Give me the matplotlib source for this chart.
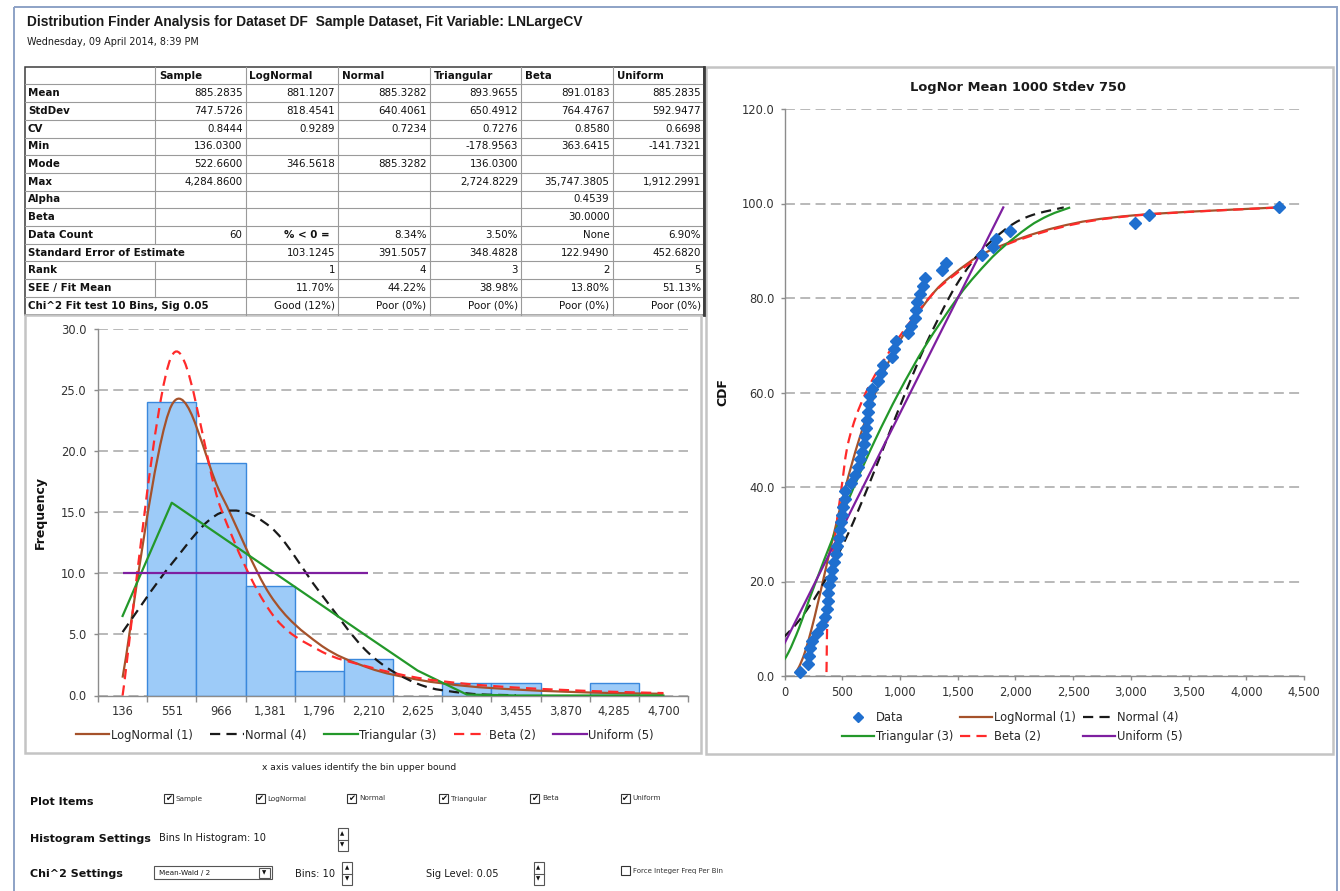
import matplotlib
matplotlib.use("Agg")
import matplotlib.pyplot as plt
from matplotlib import font_manager
from matplotlib.lines import Line2D
from matplotlib.path import Path
from matplotlib.patches import PathPatch, Rectangle
from matplotlib.ticker import FixedLocator, FuncFormatter, MultipleLocator

W, H = 1340, 891

# ---------------- values ----------------
title = "Distribution Finder Analysis for Dataset DF  Sample Dataset, Fit Variable: LNLargeCV"
stamp = "Wednesday, 09 April 2014, 8:39 PM"

table_cols = ["", "Sample", "LogNormal", "Normal", "Triangular", "Beta", "Uniform"]
row_labels = ["Mean", "StdDev", "CV", "Min", "Mode", "Max", "Alpha", "Beta",
              "Data Count", "Standard Error of Estimate", "Rank", "SEE / Fit Mean",
              "Chi^2 Fit test 10 Bins, Sig 0.05"]
row_values = [
    ["885.2835", "881.1207", "885.3282", "893.9655", "891.0183", "885.2835"],
    ["747.5726", "818.4541", "640.4061", "650.4912", "764.4767", "592.9477"],
    ["0.8444", "0.9289", "0.7234", "0.7276", "0.8580", "0.6698"],
    ["136.0300", "", "", "-178.9563", "363.6415", "-141.7321"],
    ["522.6600", "346.5618", "885.3282", "136.0300", "", ""],
    ["4,284.8600", "", "", "2,724.8229", "35,747.3805", "1,912.2991"],
    ["", "", "", "", "0.4539", ""],
    ["", "", "", "", "30.0000", ""],
    ["60", "% < 0 =", "8.34%", "3.50%", "None", "6.90%"],
    ["", "103.1245", "391.5057", "348.4828", "122.9490", "452.6820"],
    ["", "1", "4", "3", "2", "5"],
    ["", "11.70%", "44.22%", "38.98%", "13.80%", "51.13%"],
    ["", "Good (12%)", "Poor (0%)", "Poor (0%)", "Poor (0%)", "Poor (0%)"],
]
merged_rows = [9, 12]

# histogram: bin upper bounds and counts, fitted expected counts
bin_labels = ["136", "551", "966", "1,381", "1,796", "2,210", "2,625",
              "3,040", "3,455", "3,870", "4,285", "4,700"]
sample_freq = [0, 24, 19, 9, 2, 3, 0, 1, 1, 0, 1, 0]
hist_lognormal = [1.46, 23.78, 16.48, 8.23, 4.21, 2.27, 1.30, 0.77, 0.49, 0.31, 0.20, 0.14]
hist_normal = [5.19, 10.79, 14.96, 13.82, 8.51, 3.49, 0.96, 0.18, 0.02]
hist_triangular = [6.51, 15.78, 13.03, 10.28, 7.53, 4.77, 2.04, 0.08, 0, 0, 0, 0]
hist_beta = [0, 27.8, 15.3, 6.9, 3.7, 2.35, 1.45, 0.95, 0.65, 0.45, 0.30, 0.20]
hist_uniform = [10, 10, 10, 10, 10, 10]

# CDF chart: sorted sample and its plotting positions (%)
sample_sorted = [136.03, 205, 215, 225, 234, 285, 327, 355, 367, 373, 379, 388,
                 401, 415, 430, 444, 458, 471, 481, 487, 495, 505, 522.66, 522.66,
                 575, 610, 640, 650, 672, 690, 700, 708, 714, 720, 730, 740,
                 762, 810, 840, 855, 935, 952, 962, 1072, 1097, 1132, 1142, 1150,
                 1173, 1203, 1213, 1362, 1400, 1707, 1805, 1835, 1955, 3033, 3157, 4284.86]
sample_cdf = [0.83, 2.50, 4.17, 5.83, 7.50, 9.17, 10.83, 12.50, 14.17, 15.83, 17.50, 19.17,
              20.83, 22.50, 24.17, 25.83, 27.50, 29.17, 30.83, 32.50, 34.17, 35.83, 37.50, 39.17,
              40.83, 42.50, 44.17, 45.83, 47.50, 49.17, 50.83, 52.50, 54.17, 55.83, 57.50, 59.17,
              60.83, 62.50, 64.17, 65.83, 67.50, 69.17, 70.83, 72.50, 74.17, 75.83, 77.50, 79.17,
              80.83, 82.50, 84.17, 85.83, 87.50, 89.17, 90.83, 92.50, 94.17, 95.83, 97.50, 99.17]

fit_cdf = [0.83, 2, 5, 10, 15, 20, 30, 40, 50, 60, 70, 80, 85, 90, 95, 97.5, 99.17]
cdf_lognormal = [97.5, 127.6, 176.3, 234.9, 284.9, 332.3, 426.7, 528.5, 645.5, 788.4,
                 976.6, 1253.9, 1462.7, 1774, 2364, 3029, 4272]
cdf_normal = [-649, -430, -168, 65, 222, 346, 549, 723, 885, 1048,
              1221, 1424, 1549, 1706, 1939, 2140, 2419]
cdf_triangular = [-91.7, -43.7, 34.9, 123.5, 197.0, 272.5, 430.9, 601.0, 786.1, 990.8,
                  1223.1, 1498.6, 1662.9, 1857.8, 2111.7, 2291.3, 2474.5]
cdf_beta = [363.7, 364.5, 366, 369, 378, 392, 440, 495, 558, 705,
            945, 1252, 1480, 1790, 2400, 3060, 4290]
cdf_uniform = [-124.6, -100.6, -39.0, 63.7, 166.4, 269.1, 474.5, 679.9, 885.3, 1090.7,
               1296.1, 1501.5, 1604.2, 1706.9, 1809.6, 1861.0, 1895.0]

fit_labels = ["LogNormal (1)", "Normal (4)", "Triangular (3)", "Beta (2)", "Uniform (5)"]
plot_items = ["Sample", "LogNormal", "Normal", "Triangular", "Beta", "Uniform"]

# ---------------- styles ----------------
C_LOGN = "#A5522B"
C_NORM = "#1A1A1A"
C_TRI = "#23982A"
C_BETA = "#FF2A2A"
C_UNI = "#7E1FA0"
C_DATA = "#1F6FCF"
BAR_FILL = "#9DCBF8"
BAR_EDGE = "#3A88DC"
GRID = "#A6A6A6"
AXIS = "#8C8C8C"
TXT = "#262626"
DASH = (0, (4.6, 2.8))

names = {f.name for f in font_manager.fontManager.ttflist}
if "Liberation Sans Narrow" in names:
    TITLE_FONT, TITLE_SIZE = "Liberation Sans Narrow", 9.8
else:
    TITLE_FONT, TITLE_SIZE = "Liberation Sans", 9.9
plt.rcParams["font.family"] = ["DejaVu Sans"]


def box(l, t, r, b):
    return [l / W, 1 - b / H, (r - l) / W, (b - t) / H]


def smooth(xs, ys):
    # Excel style smoothed line: Catmull-Rom segments as cubic Bezier curves
    pts = list(zip(xs, ys))
    n = len(pts)
    verts = [pts[0]]
    codes = [Path.MOVETO]
    for i in range(n - 1):
        p0 = pts[max(i - 1, 0)]
        p1 = pts[i]
        p2 = pts[i + 1]
        p3 = pts[min(i + 2, n - 1)]
        c1 = (p1[0] + (p2[0] - p0[0]) / 6, p1[1] + (p2[1] - p0[1]) / 6)
        c2 = (p2[0] - (p3[0] - p1[0]) / 6, p2[1] - (p3[1] - p1[1]) / 6)
        verts += [c1, c2, p2]
        codes += [Path.CURVE4] * 3
    return Path(verts, codes)


def curve(ax, xs, ys, color, ls="-", z=3):
    ax.add_patch(PathPatch(smooth(xs, ys), fill=False, edgecolor=color, lw=1.6,
                           linestyle=ls, capstyle="butt", zorder=z))


def style(ax):
    ax.set_facecolor("none")
    for s in ["top", "right"]:
        ax.spines[s].set_visible(False)
    for s in ["left", "bottom"]:
        ax.spines[s].set_color(AXIS)
        ax.spines[s].set_linewidth(1.0)
    ax.tick_params(which="both", colors=AXIS, labelcolor="#333333", labelsize=8.3,
                   length=3, width=1.0, direction="out")
    ax.yaxis.grid(True, color=GRID, linestyle=(0, (6.5, 3.5)), lw=1.1)
    ax.set_axisbelow(True)
    ax.yaxis.set_major_formatter(FuncFormatter(lambda v, p: f"{v:.1f}"))


fig = plt.figure(figsize=(W / 100, H / 100), dpi=100)
fig.patch.set_facecolor("white")

page = fig.add_axes([0, 0, 1, 1])
page.set_xlim(0, W)
page.set_ylim(H, 0)
page.axis("off")

# page border
page.add_patch(Rectangle((14, 7), 1323, 900, fill=False, ec="#8DA2C6", lw=1.4))

page.text(27, 22, title, family=TITLE_FONT, fontweight="bold", fontsize=TITLE_SIZE,
          va="center", ha="left", color="#1A1A1A")
page.text(27, 42, stamp, fontsize=6.9, va="center", ha="left", color="#1A1A1A")

# ---------------- table ----------------
col_x = [25, 155, 245.5, 338, 429.5, 521, 612.5, 704]
row_h = 17.7
top = 66.7
n_rows = len(row_labels) + 1
bottom = top + n_rows * row_h

for k in range(1, n_rows):
    y = top + k * row_h
    page.plot([col_x[0], col_x[-1]], [y, y], color="#9A9A9A", lw=0.8)
for j, x in enumerate(col_x[1:-1], start=1):
    for k in range(n_rows):
        if j == 1 and (k - 1) in merged_rows:
            continue
        page.plot([x, x], [top + k * row_h, top + (k + 1) * row_h], color="#9A9A9A", lw=0.8)
page.add_patch(Rectangle((col_x[0], top), col_x[-1] - col_x[0], bottom - top,
                         fill=False, ec="#3C3C3C", lw=1.1))
page.plot([col_x[-1], col_x[-1]], [top, bottom], color="#3C3C3C", lw=2.0)

for j, name in enumerate(table_cols):
    if name:
        page.text(col_x[j] + 4, top + row_h / 2, name, fontsize=7.4, fontweight="bold",
                  va="center", ha="left", color="#111111")
for i, lab in enumerate(row_labels):
    yc = top + (i + 1.5) * row_h
    page.text(col_x[0] + 3, yc, lab, fontsize=7.4, fontweight="bold",
              va="center", ha="left", color="#111111")
    for j, val in enumerate(row_values[i]):
        if not val:
            continue
        bold = val.startswith("%")
        page.text(col_x[j + 2] - (8 if bold else 3), yc, val, fontsize=7.4,
                  fontweight="bold" if bold else "normal",
                  va="center", ha="right", color="#111111")

# ---------------- panel frames ----------------
page.add_patch(Rectangle((25, bottom), 676, 753 - bottom, fill=False, ec="#C4C4C4", lw=1.8))
page.add_patch(Rectangle((706, 67), 627, 687, fill=False, ec="#C4C4C4", lw=1.8))

# ---------------- histogram ----------------
axh = fig.add_axes(box(98, 329, 688, 695.5))
style(axh)
idx = list(range(len(bin_labels)))
bars = axh.bar(idx, sample_freq, width=1.0, color=BAR_FILL, edgecolor=BAR_EDGE, lw=1.0, zorder=2)
for rect, n in zip(bars, sample_freq):
    if n == 0:
        rect.set_visible(False)
curve(axh, idx, hist_lognormal, C_LOGN)
curve(axh, idx[:len(hist_normal)], hist_normal, C_NORM, DASH)
axh.plot(idx, hist_triangular, color=C_TRI, lw=1.6, zorder=3)
curve(axh, idx, hist_beta, C_BETA, DASH)
axh.plot(idx[:len(hist_uniform)], hist_uniform, color=C_UNI, lw=1.6, zorder=3,
         solid_capstyle="butt")
axh.set_xlim(-0.5, len(bin_labels) - 0.5)
axh.set_ylim(0, 30)
axh.yaxis.set_major_locator(MultipleLocator(5))
axh.xaxis.set_major_locator(FixedLocator(idx))
axh.set_xticklabels(bin_labels)
axh.xaxis.set_minor_locator(FixedLocator([i - 0.5 for i in range(len(bin_labels) + 1)]))
axh.tick_params(axis="x", which="major", length=0, pad=6.5)
axh.tick_params(axis="x", which="minor", length=4)
axh.tick_params(axis="y", pad=5.5)
axh.set_ylabel("Frequency", fontsize=9, fontweight="bold", color="#111111")
axh.yaxis.set_label_coords(-0.086, 0.5)

fit_colors = [C_LOGN, C_NORM, C_TRI, C_BETA, C_UNI]
fit_styles = ["-", DASH, "-", DASH, "-"]
handles = [Line2D([], [], color=c, lw=1.6, ls=s) for c, s in zip(fit_colors, fit_styles)]
fig.legend(handles, fit_labels, loc="center", bbox_to_anchor=(365 / W, 1 - 735 / H),
           ncol=5, frameon=False, fontsize=8.3, handlelength=2.9, handletextpad=0.15,
           columnspacing=1.5, borderpad=0, labelcolor=TXT)

page.text(359, 767, "x axis values identify the bin upper bound", fontsize=6.6,
          ha="center", va="center", color="#1A1A1A")

# ---------------- CDF chart ----------------
axc = fig.add_axes(box(784.5, 109, 1304, 676))
style(axc)
curve(axc, cdf_lognormal, fit_cdf, C_LOGN)
curve(axc, cdf_normal, fit_cdf, C_NORM, DASH)
curve(axc, cdf_triangular, fit_cdf, C_TRI)
curve(axc, cdf_beta, fit_cdf, C_BETA, DASH)
axc.plot(cdf_uniform, fit_cdf, color=C_UNI, lw=1.6, zorder=3)
axc.plot(sample_sorted, sample_cdf, ls="none", marker="D", ms=6.4, color=C_DATA,
         mec=C_DATA, zorder=5, clip_on=False)
axc.set_xlim(0, 4500)
axc.set_ylim(0, 120)
axc.xaxis.set_major_locator(MultipleLocator(500))
axc.yaxis.set_major_locator(MultipleLocator(20))
axc.xaxis.set_major_formatter(FuncFormatter(lambda v, p: f"{v:,.0f}"))
axc.tick_params(axis="x", pad=4)
axc.tick_params(axis="y", pad=4.3)
axc.set_ylabel("CDF", fontsize=9, fontweight="bold", color="#111111")
axc.yaxis.set_label_coords(-0.107, 0.5)
page.text(1018, 87, "LogNor Mean 1000 Stdev 750", fontsize=9.4, fontweight="bold",
          ha="center", va="center", color="#1A1A1A")

cdf_handles = [Line2D([], [], ls="none", marker="D", ms=5.5, color=C_DATA)] + handles
cdf_labels = ["Data"] + fit_labels
order = [0, 3, 1, 4, 2, 5]
fig.legend([cdf_handles[i] for i in order], [cdf_labels[i] for i in order], loc="center",
           bbox_to_anchor=(1012 / W, 1 - 727 / H), ncol=3, frameon=False, fontsize=8.3,
           handlelength=2.8, handletextpad=0.15, columnspacing=0.6, labelspacing=0.45,
           borderpad=0, labelcolor=TXT)

# ---------------- controls under the charts ----------------
page.text(30, 802, "Plot Items", fontsize=8.0, fontweight="bold", va="center", color="#111111")
page.text(30, 839, "Histogram Settings", fontsize=8.0, fontweight="bold", va="center", color="#111111")
page.text(30, 874, "Chi^2 Settings", fontsize=8.0, fontweight="bold", va="center", color="#111111")

check_x = [164, 255.5, 347, 439, 530, 620.5]
for x, lab in zip(check_x, plot_items):
    page.add_patch(Rectangle((x, 794), 9, 9, fill=False, ec="#333333", lw=0.8))
    page.text(x + 4.5, 798.5, "\u2714", fontsize=6, ha="center", va="center", color="#111111")
    page.text(x + 12, 798.5, lab, fontsize=5.2, va="center", ha="left", color="#333333")

page.text(159, 838, "Bins In Histogram: 10", fontsize=7.1, va="center", color="#1A1A1A")
page.text(295, 874, "Bins: 10", fontsize=7.1, va="center", color="#1A1A1A")
page.text(426, 874, "Sig Level: 0.05", fontsize=7.1, va="center", color="#1A1A1A")

for x0, y0, y1 in [(337.5, 828, 851), (342, 862, 885), (533.5, 862, 885)]:
    ym = (y0 + y1) / 2
    page.add_patch(Rectangle((x0, y0), 10, y1 - y0, fill=False, ec="#555555", lw=0.8))
    page.plot([x0, x0 + 10], [ym, ym], color="#555555", lw=0.8)
    page.text(x0 + 5, (y0 + ym) / 2 + 0.5, "\u25b2", fontsize=4, ha="center", va="center", color="#111111")
    page.text(x0 + 5, (ym + y1) / 2, "\u25bc", fontsize=4, ha="center", va="center", color="#111111")

page.add_patch(Rectangle((154, 866), 118, 13, fill=False, ec="#555555", lw=0.8))
page.add_patch(Rectangle((259, 867.5), 11, 10, fill=False, ec="#555555", lw=0.8))
page.text(264.5, 872.5, "\u25bc", fontsize=4, ha="center", va="center", color="#111111")
page.text(159, 872.5, "Mean-Wald / 2", fontsize=5.2, va="center", color="#1A1A1A")

page.add_patch(Rectangle((620.5, 866), 9, 9, fill=False, ec="#333333", lw=0.8))
page.text(633, 870.5, "Force Integer Freq Per Bin", fontsize=5.0, va="center", color="#333333")

fig.savefig("out.png", dpi=100)
